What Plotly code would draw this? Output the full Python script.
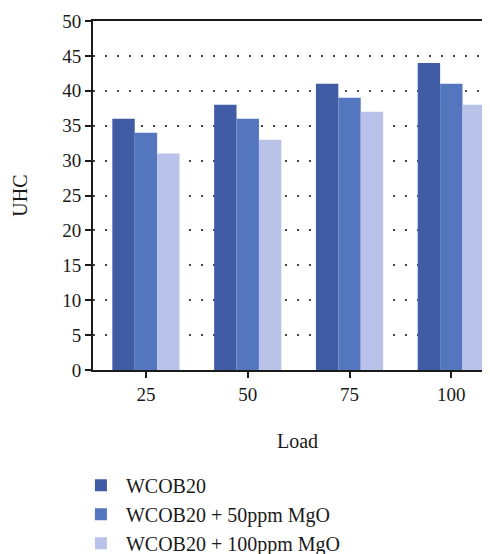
import plotly.graph_objects as go

loads = ["25", "50", "75", "100"]
series_names = ["WCOB20", "WCOB20 + 50ppm MgO", "WCOB20 + 100ppm MgO"]
wcob20 = [36, 38, 41, 44]
wcob20_50 = [34, 36, 39, 41]
wcob20_100 = [31, 33, 37, 38]
y_ticks = [0, 5, 10, 15, 20, 25, 30, 35, 40, 45, 50]

colors = ["#405CA5", "#5376BE", "#B9C2E8"]
font_family = "Liberation Serif, DejaVu Serif, serif"

fig = go.Figure()
for name, vals, col in zip(series_names, [wcob20, wcob20_50, wcob20_100], colors):
    fig.add_trace(go.Bar(x=loads, y=vals, name=name, marker=dict(color=col, line=dict(width=0))))

fig.update_layout(
    width=482, height=590,
    margin=dict(l=85, r=0, t=13, b=228),
    paper_bgcolor="white", plot_bgcolor="white",
    barmode="group", bargap=0.34, bargroupgap=0,
    font=dict(family=font_family, size=19, color="#1a1a1a"),
    showlegend=True,
    legend=dict(x=-0.043, y=-0.274, xanchor="left", yanchor="top",
                orientation="v", font=dict(size=20), itemwidth=40,
                bgcolor="rgba(0,0,0,0)"),
    xaxis=dict(type="category", range=[-0.52, 3.38], showline=True, linecolor="#1a1a1a",
               linewidth=2, mirror=True, ticks="outside", ticklen=6, tickwidth=1.5,
               tickcolor="#1a1a1a", showgrid=False, zeroline=False),
    yaxis=dict(range=[0, 50], tickvals=y_ticks, showline=True, linecolor="#1a1a1a",
               linewidth=2, ticks="outside", ticklen=6, tickwidth=1.5, tickcolor="#1a1a1a",
               showgrid=True, gridcolor="#444444", gridwidth=1.5, griddash="2px,10px",
               zeroline=False),
    annotations=[
        dict(text="Load", xref="paper", yref="paper", x=0.516, y=-0.203,
             xanchor="center", yanchor="middle", showarrow=False, font=dict(size=20)),
        dict(text="UHC", xref="paper", yref="paper", x=-0.186, y=0.5, textangle=-90,
             xanchor="center", yanchor="middle", showarrow=False, font=dict(size=20)),
    ],
)

fig.write_html("out.html")
